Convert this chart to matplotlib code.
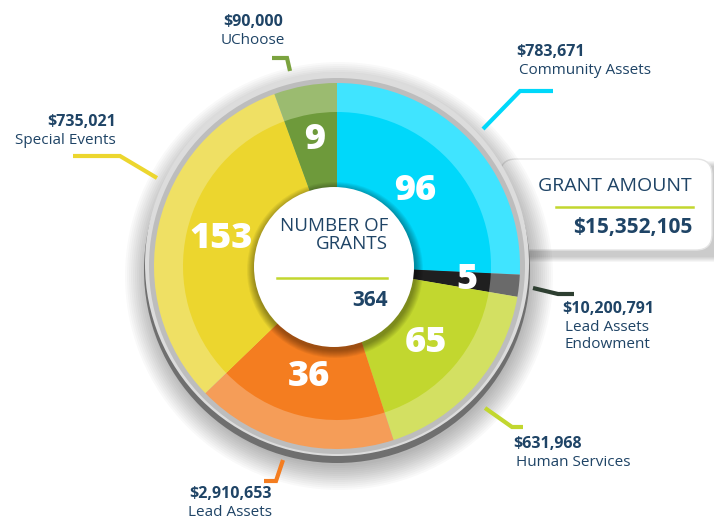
import matplotlib
matplotlib.use("Agg")
from matplotlib import pyplot as plt
from matplotlib.patches import Circle, FancyBboxPatch
import numpy as np

# data
categories = ["Community Assets", "Lead Assets\nEndowment", "Human Services",
              "Lead Assets", "Special Events", "UChoose"]
grants = [96, 5, 65, 36, 153, 9]
amounts = ["$783,671", "$10,200,791", "$631,968", "$2,910,653", "$735,021", "$90,000"]
total_grants = 364
total_amount = "$15,352,105"
# slice sizes as drawn in the infographic (degrees;
# the original is not drawn to scale with the grant counts)
drawn_share = [92.7, 7.0, 62.3, 64.0, 114.0, 20.0]

inner_colors = ["#00d8fa", "#1f1f1f", "#c2d72f", "#f47d20", "#ecd62e", "#6e9a3b"]
outer_colors = ["#40e4ff", "#6a6a6a", "#d3e062", "#f59d58", "#efe064", "#9bbb70"]
leader_colors = ["#00d8fa", "#2e3f31", "#c2d72f", "#f47d20", "#ecd62e", "#7ba33f"]
navy = "#1f4466"

W, H = 714, 521
cx, cy = 337, 266
R_out, R_in, R_hole = 183, 154, 80


def P(x, y):
    # picture pixel -> axes coords
    return x, H - y


plt.rcParams["font.family"] = ["Open Sans", "DejaVu Sans"]
fig = plt.figure(figsize=(W / 100, H / 100), dpi=100)
ax = fig.add_axes([0, 0, 1, 1])

# grant amount box with shadow
for k in range(6):
    ax.add_patch(FancyBboxPatch((500, H - 262 + k), 230, 96,
                                boxstyle="round,pad=0,rounding_size=18",
                                fc="black", ec="none", alpha=0.035, zorder=1))
ax.add_patch(FancyBboxPatch((500, H - 250), 212, 91,
                            boxstyle="round,pad=0,rounding_size=16",
                            fc="white", ec="#e4e4e4", lw=1, zorder=2))

# soft drop shadow under the pie
for r in np.arange(214, 188, -2):
    ax.add_patch(Circle(P(cx + 2, cy + 10), r, fc="black", ec="none", alpha=0.025, zorder=3))
# grey rim: dark at bottom, light at top
ax.add_patch(Circle(P(cx, cy + 4), 193, fc="#6f6f6f", ec="none", zorder=4))
ax.add_patch(Circle(P(cx, cy - 2), 192, fc="#dcdcdc", ec="none", zorder=4))
ax.add_patch(Circle(P(cx, cy), 188, fc="#bdbdbd", ec="none", zorder=4))

center = P(cx, cy)
w1, _ = ax.pie(drawn_share, colors=outer_colors, startangle=90, counterclock=False,
               radius=R_out, center=center, wedgeprops=dict(lw=0), frame=True)
w2, _ = ax.pie(drawn_share, colors=inner_colors, startangle=90, counterclock=False,
               radius=R_in, center=center, wedgeprops=dict(lw=0), frame=True)
for w in w1:
    w.set_zorder(5)
for w in w2:
    w.set_zorder(6)
ax.set_xlim(0, W)
ax.set_ylim(0, H)
ax.set_aspect("equal")
ax.axis("off")

# slice numbers
label_r = [108, 131, 117, 114, 119, 128]
for w, g, r in zip(w2, grants, label_r):
    mid = np.radians((w.theta1 + w.theta2) / 2)
    ax.text(center[0] + r * np.cos(mid), center[1] + r * np.sin(mid), str(g),
            ha="center", va="center", color="white", fontsize=26, fontweight="heavy",
            zorder=8)

# white centre with shadow
for r in np.arange(88, 80, -1):
    ax.add_patch(Circle(P(cx - 2, cy + 4), r, fc="black", ec="none", alpha=0.05, zorder=7))
ax.add_patch(Circle(P(cx - 3, cy + 1), R_hole, fc="white", ec="none", zorder=7))
ax.text(*P(388, 235), "NUMBER OF\nGRANTS", ha="right", va="center", color=navy,
        fontsize=13.5, linespacing=1.05, zorder=9)
ax.plot([277, 387], [H - 278, H - 278], color="#c2d72f", lw=1.8, zorder=9)
ax.text(*P(388, 300), str(total_grants), ha="right", va="center", color=navy,
        fontsize=15, fontweight="bold", zorder=9)

# grant amount text
ax.text(*P(692, 186), "GRANT AMOUNT", ha="right", va="center", color=navy,
        fontsize=14, zorder=9)
ax.plot([556, 693], [H - 207, H - 207], color="#c2d72f", lw=1.8, zorder=9)
ax.text(*P(692, 228), total_amount, ha="right", va="center", color=navy,
        fontsize=15, fontweight="bold", zorder=9)

# leaders (picture pixels) and label anchors
leaders = [
    [(553, 91), (520, 91), (483, 129)],
    [(533, 288), (558, 294), (574, 294)],
    [(485, 408), (512, 427), (523, 427)],
    [(283, 460), (276, 481), (264, 481)],
    [(73, 156), (120, 156), (157, 178)],
    [(272, 58), (287, 58), (290, 71)],
]
anchors = [(516, 52, "left"), (562, 309, "left"), (513, 444, "left"),
           (272, 494, "right"), (116, 122, "right"), (253, 22, "center")]

for pts, col in zip(leaders, leader_colors):
    xs = [p[0] for p in pts]
    ys = [H - p[1] for p in pts]
    ax.plot(xs, ys, color=col, lw=3, solid_capstyle="butt", solid_joinstyle="miter",
            zorder=9)

for (x, y, ha), amt, cat in zip(anchors, amounts, categories):
    ax.text(*P(x, y), amt, ha=ha, va="center", color=navy, fontsize=11.5,
            fontweight="bold", zorder=9)
    x2 = x + 3 if ha == "left" else x
    ax.text(*P(x2, y + 11), cat, ha=ha, va="top", color=navy, fontsize=11,
            linespacing=1.2, zorder=9)

fig.savefig("out.png", dpi=100, facecolor="white")
